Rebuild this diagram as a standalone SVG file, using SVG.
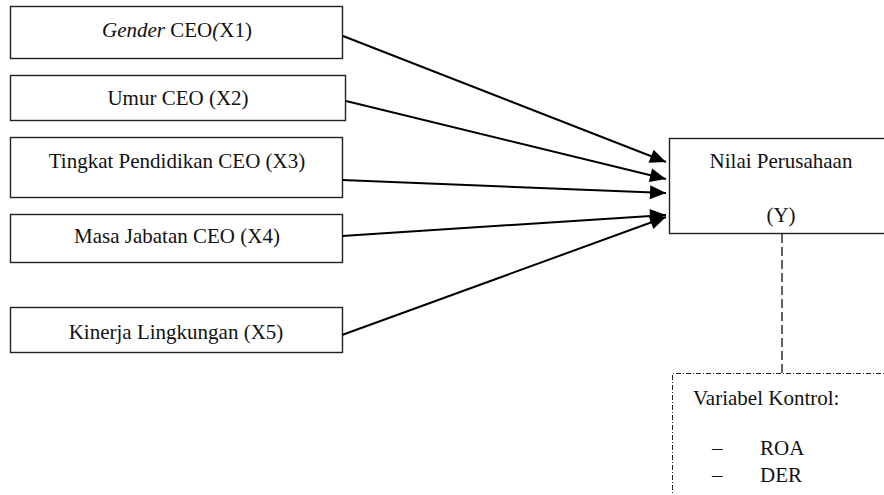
<svg xmlns="http://www.w3.org/2000/svg" width="884" height="495" viewBox="0 0 884 495">
<style>
.box{fill:#fff;stroke:#222;stroke-width:1.4}
.t{font-family:"Liberation Serif","Times New Roman",serif;font-size:21px;fill:#111}
.c{text-anchor:middle}
.arr{stroke:#000;stroke-width:2;fill:none;marker-end:url(#ah)}
</style>
<defs>
<marker id="ah" markerUnits="userSpaceOnUse" markerWidth="18" markerHeight="16" refX="16" refY="7" orient="auto" overflow="visible">
<path d="M0,0 L16,7 L0,14 Z" fill="#000"/>
</marker>
</defs>
<rect width="884" height="495" fill="#fff"/>
<g id="x1"><rect class="box" x="10.5" y="6.5" width="332" height="52"/><text class="t c" x="177" y="37"><tspan font-style="italic">Gender</tspan> CEO<tspan font-style="italic">(</tspan>X1)</text></g>
<g id="x2"><rect class="box" x="10.5" y="75.5" width="335" height="45"/><text class="t c" x="178" y="105">Umur CEO (X2)</text></g>
<g id="x3"><rect class="box" x="10.5" y="137.5" width="332" height="60"/><text class="t c" x="177" y="168">Tingkat Pendidikan CEO (X3)</text></g>
<g id="x4"><rect class="box" x="10.5" y="214.5" width="332" height="48"/><text class="t c" x="177" y="243">Masa Jabatan CEO (X4)</text></g>
<g id="x5"><rect class="box" x="10.5" y="307.5" width="332" height="45"/><text class="t c" x="176" y="339">Kinerja Lingkungan (X5)</text></g>
<g id="y"><rect class="box" x="669.5" y="138.5" width="220" height="95"/><text class="t c" x="781" y="168">Nilai Perusahaan</text><text class="t c" x="781" y="222">(Y)</text></g>
<g id="kontrol"><path d="M672.5,500 V373.5 H890" fill="none" stroke="#222" stroke-width="1" stroke-dasharray="5,2,1,2"/><text class="t" x="693" y="405">Variabel Kontrol:</text><text class="t" x="712" y="455">–</text><text class="t" x="760" y="455">ROA</text><text class="t" x="712" y="482">–</text><text class="t" x="760" y="482">DER</text></g>
<g id="connectors">
<line class="arr" x1="343" y1="36" x2="666" y2="162"/>
<line class="arr" x1="346" y1="101" x2="666" y2="179"/>
<line class="arr" x1="342" y1="180" x2="666" y2="193"/>
<line class="arr" x1="342" y1="236" x2="666" y2="215"/>
<line class="arr" x1="342" y1="335" x2="666" y2="217"/>
<line x1="782" y1="234" x2="782" y2="373" stroke="#222" stroke-width="1.4" stroke-dasharray="9,4"/>
</g>
</svg>
